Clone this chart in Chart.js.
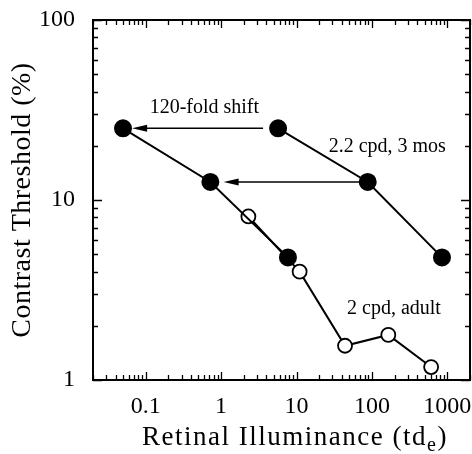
<!DOCTYPE html>
<html>
<head>
<meta charset="utf-8">
<script src="https://cdn.jsdelivr.net/npm/chart.js@4/dist/chart.umd.min.js"></script>
<style>
  html, body { margin: 0; padding: 0; background: #fff; }
  #wrap { width: 472px; height: 454px; }
</style>
</head>
<body>
<div id="wrap"><canvas id="grafica" width="472" height="454"></canvas></div>
<script>
// ===============================
// DATA
// ===============================
const infantX = [5.7, 88, 850];
const infantY = [25, 12.6, 4.8];
const shiftedX = [0.05, 0.72, 7.7];
const shiftedY = [25, 12.6, 4.8];
const adultX = [2.3, 11, 44, 165, 610];
const adultY = [8.1, 4.0, 1.55, 1.78, 1.18];

const xTicks = [0.1, 1, 10, 100, 1000];
const yTicks = [1, 10, 100];

// arrows: start (right) -> tip (left)
const arrowStartX = [3.6, 70];
const arrowTipX = [0.066, 1.08];
const arrowY = [25, 12.6];

const labelText = ["120-fold shift", "2.2 cpd, 3 mos", "2 cpd, adult"];
const labelX = [0.6, 160, 196];
const labelY = [32.5, 19.7, 2.48];

const FONT = "'Liberation Serif', 'Times New Roman', serif";

function pts(xs, ys) {
    return xs.map((x, i) => ({ x: x, y: ys[i] }));
}

// ===============================
// PLUGIN: frame, inward ticks, titles, notes
// ===============================
const decor = {
    id: "decor",
    afterDraw(chart) {
        const ctx = chart.ctx;
        const a = chart.chartArea;
        const sx = chart.scales.x, sy = chart.scales.y;
        ctx.save();
        ctx.strokeStyle = "#000";
        ctx.lineWidth = 2;
        ctx.strokeRect(a.left, a.top, a.right - a.left, a.bottom - a.top);

        ctx.lineWidth = 1.3;
        ctx.beginPath();
        for (let k = -2; k <= 3; k++) {
            for (let m = 1; m <= 9; m++) {
                const v = m * Math.pow(10, k);
                if (v < sx.min || v > sx.max) continue;
                const px = Math.round(sx.getPixelForValue(v)) + 0.5;
                const len = m === 1 ? 8 : 5;
                ctx.moveTo(px, a.bottom); ctx.lineTo(px, a.bottom - len);
                ctx.moveTo(px, a.top); ctx.lineTo(px, a.top + len);
            }
        }
        for (let k = 0; k <= 2; k++) {
            for (let m = 1; m <= 9; m++) {
                const v = m * Math.pow(10, k);
                if (v < sy.min || v > sy.max) continue;
                const py = Math.round(sy.getPixelForValue(v)) + 0.5;
                const len = m === 1 ? 9 : 5;
                ctx.moveTo(a.left, py); ctx.lineTo(a.left + len, py);
                ctx.moveTo(a.right, py); ctx.lineTo(a.right - len, py);
            }
        }
        ctx.stroke();

        // arrows
        ctx.lineWidth = 1.5;
        ctx.fillStyle = "#000";
        arrowY.forEach((yv, i) => {
            const y = sy.getPixelForValue(yv);
            const x0 = sx.getPixelForValue(arrowStartX[i]);
            const x1 = sx.getPixelForValue(arrowTipX[i]);
            ctx.beginPath();
            ctx.moveTo(x0, y); ctx.lineTo(x1 + 10, y);
            ctx.stroke();
            ctx.beginPath();
            ctx.moveTo(x1, y);
            ctx.lineTo(x1 + 15, y - 3.5);
            ctx.lineTo(x1 + 15, y + 3.5);
            ctx.closePath();
            ctx.fill();
        });

        // notes
        ctx.font = "20px " + FONT;
        ctx.textAlign = "center";
        ctx.textBaseline = "middle";
        labelText.forEach((t, i) => {
            ctx.fillText(t, sx.getPixelForValue(labelX[i]), sy.getPixelForValue(labelY[i]));
        });

        // x title with subscript
        ctx.textAlign = "left";
        ctx.textBaseline = "alphabetic";
        ctx.letterSpacing = "1.5px";
        const main = "Retinal Illuminance (td";
        const sub = "e";
        ctx.font = "27px " + FONT;
        const w1 = ctx.measureText(main).width;
        ctx.font = "20px " + FONT;
        const w2 = ctx.measureText(sub).width;
        ctx.font = "27px " + FONT;
        const w3 = ctx.measureText(")").width;
        let x = 295 - (w1 + w2 + w3) / 2;
        const base = 445;
        ctx.fillText(main, x, base);
        x += w1;
        ctx.font = "20px " + FONT;
        ctx.fillText(sub, x, base + 6);
        x += w2;
        ctx.font = "27px " + FONT;
        ctx.fillText(")", x, base);

        // y title
        ctx.letterSpacing = "0.5px";
        ctx.font = "28px " + FONT;
        ctx.translate(23, 200);
        ctx.rotate(-Math.PI / 2);
        ctx.textAlign = "center";
        ctx.textBaseline = "middle";
        ctx.fillText("Contrast Threshold (%)", 0, 0);
        ctx.restore();
    }
};

const noPad = () => ({ left: 0, top: 0, right: 0, bottom: 0 });

// ===============================
// CHART
// ===============================
Chart.defaults.font.family = FONT;
Chart.defaults.color = "#000";

new Chart(document.getElementById("grafica"), {
    type: "scatter",
    data: {
        datasets: [
            {
                label: "2.2 cpd, 3 mos",
                data: pts(infantX, infantY),
                showLine: true,
                borderColor: "#000",
                borderWidth: 2,
                pointRadius: 8,
                pointBackgroundColor: "#000",
                pointBorderColor: "#000"
            },
            {
                label: "shifted",
                data: pts(shiftedX, shiftedY),
                showLine: true,
                borderColor: "#000",
                borderWidth: 2,
                pointRadius: 8,
                pointBackgroundColor: "#000",
                pointBorderColor: "#000"
            },
            {
                label: "2 cpd, adult",
                data: pts(adultX, adultY),
                showLine: true,
                borderColor: "#000",
                borderWidth: 2,
                pointRadius: 7,
                pointBorderWidth: 1.8,
                pointBackgroundColor: "#fff",
                pointBorderColor: "#000"
            }
        ]
    },
    options: {
        responsive: false,
        animation: false,
        layout: { autoPadding: false, padding: { top: 20, right: 2, left: 0, bottom: 0 } },
        plugins: { legend: { display: false }, tooltip: { enabled: false } },
        scales: {
            x: {
                type: "logarithmic",
                min: 0.02,
                max: 2000,
                grid: { display: false },
                border: { display: false },
                ticks: {
                    font: { size: 24 },
                    padding: 4,
                    maxRotation: 0,
                    autoSkip: false,
                    callback: v => String(v)
                },
                afterBuildTicks: s => { s.ticks = xTicks.map(v => ({ value: v })); },
                afterFit: s => {
                    s.height = 74;
                    s.paddingLeft = 0; s.paddingRight = 0;
                    s.getPadding = noPad;
                }
            },
            y: {
                type: "logarithmic",
                min: 1,
                max: 100,
                grid: { display: false },
                border: { display: false },
                ticks: {
                    font: { size: 24 },
                    padding: 10,
                    autoSkip: false,
                    callback: v => String(v)
                },
                afterBuildTicks: s => { s.ticks = yTicks.map(v => ({ value: v })); },
                afterFit: s => {
                    s.width = 93;
                    s.paddingTop = 0; s.paddingBottom = 0;
                    s.getPadding = noPad;
                }
            }
        }
    },
    plugins: [decor]
});
</script>
</body>
</html>
